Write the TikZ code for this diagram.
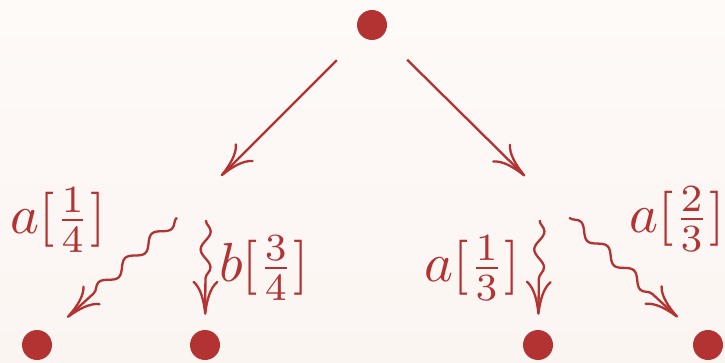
\documentclass[tikz,border=0pt]{standalone}
\usepackage{amsmath}
\usepackage{xcolor}
\usepackage{tikz}
\usetikzlibrary{arrows.meta,decorations.pathmorphing}

\definecolor{dotred}{RGB}{179,50,50}
\definecolor{papertop}{RGB}{254,250,248}
\definecolor{paperbot}{RGB}{251,245,242}

\begin{document}
\begin{tikzpicture}[
  x=1pt, y=-1pt, >={Computer Modern Rightarrow[length=34pt,width=26pt]},
  lab/.style={text=dotred, scale=5.5},
  dot/.style={rectangle, minimum size=60pt, inner sep=0pt,
    path picture={\fill[dotred] (path picture bounding box.center) circle (15pt);}},
  hub/.style={rectangle, minimum size=58pt, inner sep=0pt},
  edge/.style={draw=dotred, line width=2.3pt, ->},
  wavy/.style={draw=dotred, line width=2.3pt, ->, decorate,
    decoration={snake, amplitude=5pt, segment length=36pt, post length=20pt}},
]
\fill[top color=papertop, bottom color=paperbot] (0,0) rectangle (725,363);
\useasboundingbox (0,0) rectangle (725,363);

% tree nodes
\node[dot, minimum size=70pt] (root) at (372,25) {};
\node[hub] (left) at (206,191) {};
\node[hub] (right) at (540,191) {};
\node[dot] (ll) at (37,345) {};
\node[dot] (lr) at (205,345) {};
\node[dot] (rl) at (538,345) {};
\node[dot] (rr) at (708,345) {};

% labels
\node[lab] (lab-ll) at (58,220) {$a[\frac{1}{4}]$};
\node[lab] (lab-lr) at (264,268) {$b[\frac{3}{4}]$};
\node[lab] (lab-rl) at (472,268) {$a[\frac{1}{3}]$};
\node[lab] (lab-rr) at (677,219) {$a[\frac{2}{3}]$};

\draw[edge, shorten >=-20pt] (root) -- (left);
\draw[edge, shorten >=-20pt] (root) -- (right);
\draw[wavy] (left) -- (ll);
\draw[wavy] (left) -- (lr);
\draw[wavy] (right) -- (rl);
\draw[wavy] (right) -- (rr);
\end{tikzpicture}
\end{document}
